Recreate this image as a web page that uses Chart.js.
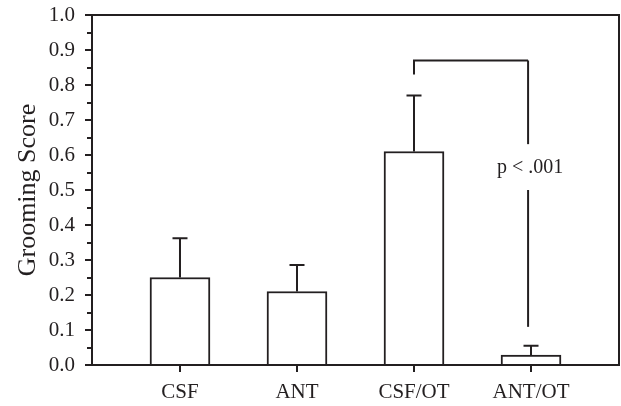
<!DOCTYPE html>
<html>
<head>
<meta charset="utf-8">
<script src="https://cdn.jsdelivr.net/npm/chart.js@4/dist/chart.umd.min.js"></script>
<style>
  html, body { margin: 0; padding: 0; background: #fff; }
  #wrap { width: 621px; height: 406px; position: relative; }
</style>
</head>
<body>
<div id="wrap"><canvas id="c" width="621" height="406"></canvas></div>
<script>
// ---- data ----
const categories = ["CSF", "ANT", "CSF/OT", "ANT/OT"];
const groomingMeans = [0.25, 0.21, 0.61, 0.028];
const groomingErrors = [0.112, 0.076, 0.16, 0.027];   // upper SEM
const yTickValues = [0.0, 0.1, 0.2, 0.3, 0.4, 0.5, 0.6, 0.7, 0.8, 0.9, 1.0];
const bracketFrom = 2;            // CSF/OT
const bracketTo = 2.975;          // ANT/OT (leg slightly left of center)
const bracketTopValue = 0.87;
const bracketLeftBottom = 0.83;
const bracketRightSegments = [[0.87, 0.631], [0.5, 0.109]];
const pLabel = "p < .001";
const pLabelValue = 0.565;

const INK = '#231f20';
const SERIF = '"Liberation Serif", "Times New Roman", serif';

const overlay = {
  id: 'overlay',
  afterDatasetsDraw(chart) {
    const ctx = chart.ctx;
    const xs = chart.scales.x, ys = chart.scales.y;
    const a = chart.chartArea;
    ctx.save();
    ctx.strokeStyle = INK;
    ctx.lineWidth = 2;
    ctx.lineCap = 'butt';
    // error bars (upper only)
    groomingMeans.forEach((m, i) => {
      const x = xs.getPixelForValue(i);
      const y0 = ys.getPixelForValue(m);
      const y1 = ys.getPixelForValue(m + groomingErrors[i]);
      ctx.beginPath();
      ctx.moveTo(x, y0); ctx.lineTo(x, y1);
      ctx.moveTo(x - 7.5, y1); ctx.lineTo(x + 7.5, y1);
      ctx.stroke();
    });
    // minor ticks
    for (let v = 0.05; v < 1; v += 0.1) {
      const y = Math.round(ys.getPixelForValue(v));
      ctx.beginPath();
      ctx.moveTo(a.left - 5, y); ctx.lineTo(a.left, y);
      ctx.stroke();
    }
    // frame top & right
    ctx.beginPath();
    ctx.moveTo(a.left, a.top); ctx.lineTo(a.right, a.top); ctx.lineTo(a.right, a.bottom);
    ctx.stroke();
    // bracket
    const xl = xs.getPixelForValue(bracketFrom);
    const xr = xs.getPixelForValue(bracketTo);
    const yt = ys.getPixelForValue(bracketTopValue);
    ctx.beginPath();
    ctx.moveTo(xl, ys.getPixelForValue(bracketLeftBottom));
    ctx.lineTo(xl, yt);
    ctx.lineTo(xr, yt);
    ctx.stroke();
    bracketRightSegments.forEach(([v0, v1]) => {
      ctx.beginPath();
      ctx.moveTo(xr, ys.getPixelForValue(v0));
      ctx.lineTo(xr, ys.getPixelForValue(v1));
      ctx.stroke();
    });
    ctx.fillStyle = INK;
    ctx.font = '20px ' + SERIF;
    ctx.textAlign = 'center';
    ctx.textBaseline = 'middle';
    ctx.fillText(pLabel, xr + 2, ys.getPixelForValue(pLabelValue));
    ctx.restore();
  }
};

new Chart(document.getElementById('c'), {
  type: 'bar',
  data: {
    datasets: [{
      data: categories.map((c, i) => ({ x: i, y: groomingMeans[i] })),
      backgroundColor: '#ffffff',
      borderColor: INK,
      borderWidth: 2,
      barThickness: 60
    }]
  },
  options: {
    responsive: false,
    animation: false,
    devicePixelRatio: 1,
    layout: { padding: { left: 0, right: 2, top: 15, bottom: 0 } },
    plugins: { legend: { display: false }, tooltip: { enabled: false } },
    scales: {
      x: {
        type: 'linear',
        offset: false,
        min: -0.752,
        max: 3.752,
        afterBuildTicks: s => { s.ticks = categories.map((c, i) => ({ value: i })); },
        afterFit: s => { s.height = 41; s.paddingLeft = 0; s.paddingRight = 0; },
        ticks: {
          callback: v => categories[v],
          color: INK,
          font: { family: SERIF, size: 21 },
          padding: 8,
          maxRotation: 0,
          autoSkip: false
        },
        grid: { display: true, offset: false, drawOnChartArea: false, drawTicks: true, tickLength: 7, color: INK, lineWidth: 2 },
        border: { display: true, color: INK, width: 2 }
      },
      y: {
        min: 0,
        max: 1,
        afterBuildTicks: s => { s.ticks = yTickValues.map(v => ({ value: v })); },
        afterFit: s => { s.width = 92; s.paddingTop = 0; s.paddingBottom = 0; },
        ticks: {
          callback: v => Number(v).toFixed(1),
          color: INK,
          font: { family: SERIF, size: 21 },
          padding: 10
        },
        title: {
          display: true,
          text: 'Grooming Score',
          color: INK,
          font: { family: SERIF, size: 26 },
          padding: { top: 13, bottom: 0 }
        },
        grid: { display: true, drawOnChartArea: false, drawTicks: true, tickLength: 7, color: INK, lineWidth: 2 },
        border: { display: true, color: INK, width: 2 }
      }
    }
  },
  plugins: [overlay]
});
</script>
</body>
</html>
